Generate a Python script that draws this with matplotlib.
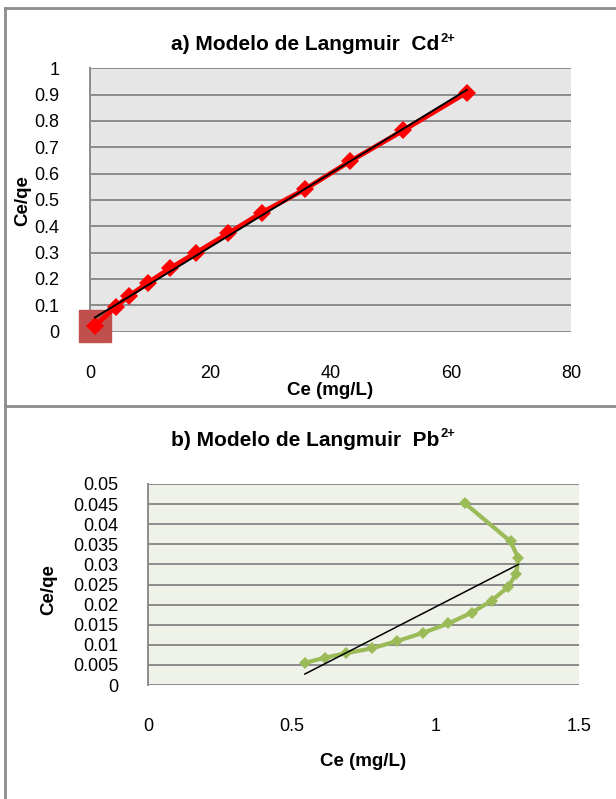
import numpy as np
import matplotlib
matplotlib.use("Agg")
import matplotlib.pyplot as plt
from matplotlib.lines import Line2D

plt.rcParams['font.family'] = ['Liberation Sans', 'DejaVu Sans']

# ---- data: Cd2+ ----
cd_ce = [0.83, 4.27, 6.49, 9.7, 13.3, 17.7, 23.0, 28.6, 35.8, 43.2, 52.1, 62.65]
cd_ceqe = [0.021, 0.094, 0.135, 0.186, 0.240, 0.300, 0.373, 0.452, 0.541, 0.646, 0.764, 0.908]
cd_extra_ce = [0.9]
cd_extra_ceqe = [0.022]
cd_xticks = [0, 20, 40, 60, 80]
cd_yticks = [0, 0.1, 0.2, 0.3, 0.4, 0.5, 0.6, 0.7, 0.8, 0.9, 1]
cd_yticklabels = ['0', '0.1', '0.2', '0.3', '0.4', '0.5', '0.6', '0.7', '0.8', '0.9', '1']

# ---- data: Pb2+ ----
pb_ce = [0.546, 0.616, 0.689, 0.778, 0.866, 0.958, 1.045, 1.127, 1.196, 1.252, 1.281, 1.289, 1.262, 1.103]
pb_ceqe = [0.0055, 0.0068, 0.0079, 0.0091, 0.0109, 0.0130, 0.0153, 0.0180, 0.0210, 0.0243, 0.0276, 0.0315, 0.0357, 0.0452]
pb_xticks = [0, 0.5, 1, 1.5]
pb_xticklabels = ['0', '0.5', '1', '1.5']
pb_yticks = [0, 0.005, 0.01, 0.015, 0.02, 0.025, 0.03, 0.035, 0.04, 0.045, 0.05]
pb_yticklabels = ['0', '0.005', '0.01', '0.015', '0.02', '0.025', '0.03', '0.035', '0.04', '0.045', '0.05']

W, H = 616, 799
fig = plt.figure(figsize=(W / 100, H / 100), dpi=100)
fig.patch.set_facecolor('white')
renderer = fig.canvas.get_renderer()

GRID = '#8c8c8c'
TICK_FS = 13
LABEL_FS = 13.5
TITLE_FS = 15


def px_axes(l, t, r, b):
    return fig.add_axes([l / W, 1 - b / H, (r - l) / W, (b - t) / H])


def style(ax, bg, xticks, yticks, xlabels, ylabels, xlim, ylim, xpad, ypad):
    ax.set_facecolor(bg)
    ax.set_xlim(*xlim)
    ax.set_ylim(*ylim)
    ax.set_xticks(xticks)
    ax.set_xticklabels(xlabels)
    ax.set_yticks(yticks)
    ax.set_yticklabels(ylabels)
    ax.tick_params(length=0, labelsize=TICK_FS, colors='black')
    ax.tick_params(axis='x', pad=xpad)
    ax.tick_params(axis='y', pad=ypad)
    for s in ['top', 'right', 'bottom']:
        ax.spines[s].set_visible(False)
    ax.spines['left'].set_color(GRID)
    ax.spines['left'].set_linewidth(1.4)
    ax.set_axisbelow(True)
    ax.yaxis.grid(True, color=GRID, linewidth=1.4)
    ax.xaxis.grid(False)


def title_with_sup(cx, cy, main, sup):
    t = fig.text(0, 1 - cy / H, main, ha='left', va='center', fontsize=TITLE_FS, fontweight='bold')
    s = fig.text(0, 1 - cy / H, sup, ha='left', va='center', fontsize=TITLE_FS * 0.62, fontweight='bold')
    bt = t.get_window_extent(renderer)
    bs = s.get_window_extent(renderer)
    total = bt.width + 1 + bs.width
    x0 = cx - total / 2
    t.set_x(x0 / W)
    s.set_x((x0 + bt.width + 1) / W)
    s.set_y(1 - (cy - 6) / H)


# ---- top chart ----
ax1 = px_axes(90, 68.3, 571, 331.5)
style(ax1, '#e6e6e6', cd_xticks, cd_yticks, [str(v) for v in cd_xticks], cd_yticklabels,
      (0, 80), (0, 1), 24, 22)
ax1.plot(cd_extra_ce, cd_extra_ceqe, linestyle='none', marker='s', markersize=23,
         color='#C0504D', clip_on=False, zorder=3)
ax1.plot(cd_ce, cd_ceqe, color='#ff0000', linewidth=3.5, marker='D', markersize=9.5,
         markeredgewidth=0, clip_on=False, zorder=4)
c1 = np.polyfit(cd_ce, cd_ceqe, 1)
xs1 = np.array([min(cd_ce), max(cd_ce)])
ax1.plot(xs1, np.polyval(c1, xs1), color='black', linewidth=1.4, zorder=5)

title_with_sup(313, 45, "a) Modelo de Langmuir  Cd", "2+")
fig.text(330 / W, 1 - 391 / H, "Ce (mg/L)", ha='center', va='center', fontsize=LABEL_FS, fontweight='bold')
fig.text(22.5 / W, 1 - 201 / H, "Ce/qe", ha='center', va='center', fontsize=LABEL_FS, fontweight='bold',
         rotation=90)

# ---- bottom chart ----
ax2 = px_axes(148, 484, 579, 685)
style(ax2, '#eff2e8', pb_xticks, pb_yticks, pb_xticklabels, pb_yticklabels,
      (0, 1.5), (0, 0.05), 24, 21)
ax2.plot(pb_ce, pb_ceqe, color='#9bbb59', linewidth=3, marker='D', markersize=6,
         markeredgewidth=0, zorder=4)
c2 = np.polyfit(pb_ce, pb_ceqe, 1)
xs2 = np.array([min(pb_ce), max(pb_ce)])
ax2.plot(xs2, np.polyval(c2, xs2), color='black', linewidth=1.1, zorder=5)

title_with_sup(313, 440, "b) Modelo de Langmuir  Pb", "2+")
fig.text(363 / W, 1 - 761 / H, "Ce (mg/L)", ha='center', va='center', fontsize=LABEL_FS, fontweight='bold')
fig.text(49 / W, 1 - 590 / H, "Ce/qe", ha='center', va='center', fontsize=LABEL_FS, fontweight='bold',
         rotation=90)

# ---- chart frames ----
BORDER = '#8c8c8c'
fig.add_artist(Line2D([5 / W, 5 / W], [0, 1 - 8 / H], color=BORDER, linewidth=2))
fig.add_artist(Line2D([5 / W, 1], [1 - 8 / H, 1 - 8 / H], color=BORDER, linewidth=2))
fig.add_artist(Line2D([5 / W, 1], [1 - 406 / H, 1 - 406 / H], color=BORDER, linewidth=2))

fig.savefig('out.png', dpi=100, facecolor='white')
